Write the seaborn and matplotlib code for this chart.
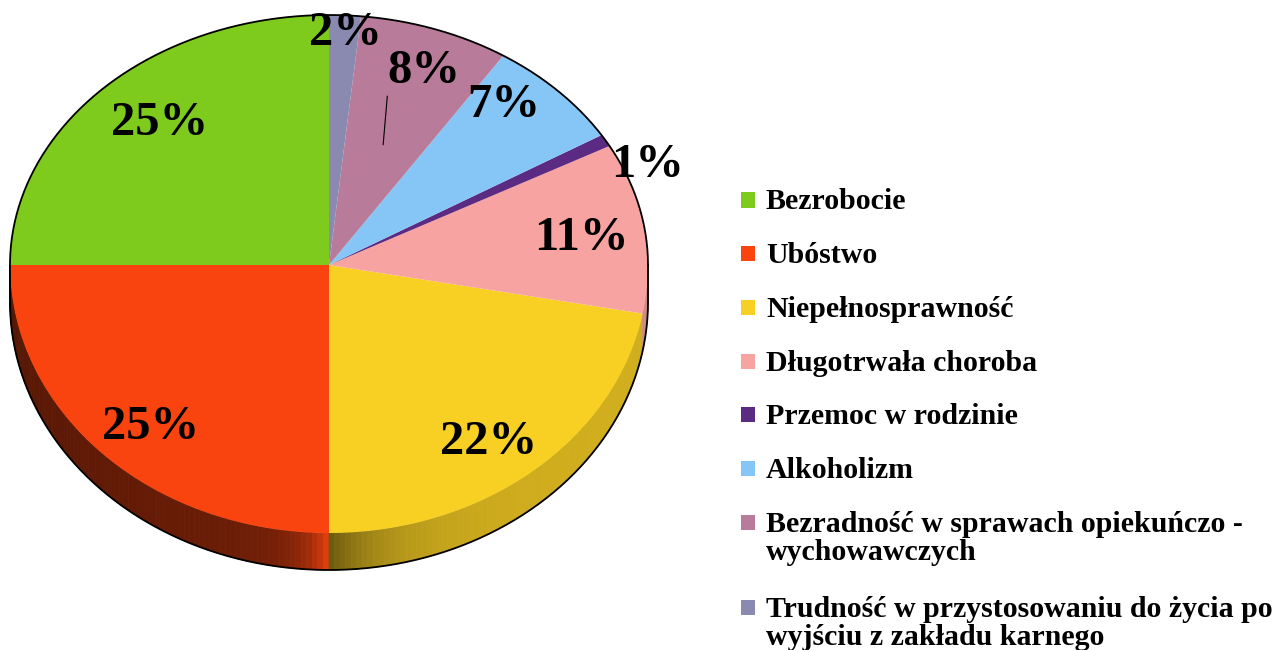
import numpy as np
import matplotlib
matplotlib.use("Agg")
import matplotlib.pyplot as plt
import matplotlib.patches as mpatches
import matplotlib.colors as mcolors
from matplotlib.transforms import offset_copy
import seaborn as sns

# ---- data ----
categories = [
    "Bezrobocie",
    "Ubóstwo",
    "Niepełnosprawność",
    "Długotrwała choroba",
    "Przemoc w rodzinie",
    "Alkoholizm",
    "Bezradność w sprawach opiekuńczo -\nwychowawczych",
    "Trudność w przystosowaniu do życia po\nwyjściu z zakładu karnego",
]
values = [25.0, 25.0, 22.1, 10.8, 0.8, 7.1, 7.6, 1.6]
colors = ["#7ecb1e", "#fa440f", "#f8cf23", "#f6a3a2", "#5b2a83",
          "#85c6f6", "#b87b99", "#8a89b0"]

# label placement (radius factor, angle offset in degrees) - style only
label_pos = [(0.786, -2.6), (0.816, 1.6), (0.82, -2.1), (0.80, -0.4),
             (1.08, -7.5), (0.85, 5.8), (0.84, -1.2), (0.94, -0.3)]

sns.set_theme(style="white")
plt.rcParams["font.family"] = ["Liberation Serif", "DejaVu Serif"]

W, H = 1283, 650
fig = plt.figure(figsize=(W / 100, H / 100), dpi=100)
ax = fig.add_axes([0, 0, 660 / W, 1])

cx, cy, rx = 329, 265, 319
ry_up, ry_dn = 250, 268
k = ry_dn / ry_up
depth = 0.138


def darker(c, f):
    r, g, b = mcolors.to_rgb(c)
    return (min(r * f, 1), min(g * f, 1), min(b * f, 1))


def side_shade(t):
    if t < 270:
        return 0.33 + 0.12 * (t - 180) / 90 + 0.5 * np.exp(-(270 - t) / 4)
    return 0.42 + 0.42 * (1 - np.exp(-(t - 270) / 10))


# top face via seaborn-styled matplotlib pie
wedges, _ = ax.pie(values, colors=colors, startangle=90, counterclock=True,
                   center=(0, 0), radius=1, wedgeprops=dict(linewidth=0, zorder=3))

# side (extrusion) strips following each wedge's angles
for w, col in zip(wedges, colors):
    t1, t2 = w.theta1 % 360, w.theta2 % 360
    if t2 <= t1:
        t2 += 360
    a0, a1 = max(t1, 180), min(t2, 360)
    if a1 <= a0:
        continue
    edges = np.linspace(a0, a1, int(np.ceil(a1 - a0)) + 1)
    for ta, tb in zip(edges[:-1], edges[1:]):
        ra, rb = np.deg2rad(ta), np.deg2rad(tb)
        xs = [np.cos(ra), np.cos(rb), np.cos(rb), np.cos(ra)]
        ys = [np.sin(ra), np.sin(rb), np.sin(rb) - depth, np.sin(ra) - depth]
        ax.fill(xs, ys, color=darker(col, side_shade((ta + tb) / 2)),
                lw=0.6, ec=darker(col, side_shade((ta + tb) / 2)), zorder=1)

# outline
tt = np.linspace(0, np.pi, 200)
tb_ = np.linspace(np.pi, 2 * np.pi, 200)
ox = np.concatenate([np.cos(tt), np.cos(tb_)])
oy = np.concatenate([np.sin(tt), np.sin(tb_) - depth])
ax.plot(np.append(ox, ox[0]), np.append(oy, oy[0]), color="black", lw=1.3, zorder=4)

total = sum(values)
txt_tr = offset_copy(ax.transData, fig=fig, x=0, y=-3, units="dots")
for w, v, (rf, da) in zip(wedges, values, label_pos):
    mid = np.deg2rad((w.theta1 + w.theta2) / 2 + da)
    ax.text(rf * np.cos(mid), rf * np.sin(mid), f"{100 * v / total:.0f}%",
            ha="center", va="center", fontsize=35, fontweight="bold",
            color="black", zorder=10, transform=txt_tr)

# thin leader line in the 8% wedge
w8 = wedges[6]
m8 = (w8.theta1 + w8.theta2) / 2
a1, a2 = np.deg2rad(m8 + 0.0), np.deg2rad(m8 + 4.3)
ax.plot([0.51 * np.cos(a1), 0.70 * np.cos(a2)],
        [0.51 * np.sin(a1), 0.70 * np.sin(a2)], color="black", lw=0.8, zorder=10)

# perspective: lower half of the ellipse slightly taller than upper half
def fwd(y):
    y = np.asarray(y, dtype=float)
    return np.where(y >= 0, y, y * k)


def inv(y):
    y = np.asarray(y, dtype=float)
    return np.where(y >= 0, y, y / k)


ax.set_aspect("auto")
ax.set_yscale("function", functions=(fwd, inv))
ax.set_xlim(-cx / rx, (660 - cx) / rx)
ax.set_ylim(-(H - cy) / ry_dn, cy / ry_up)
ax.axis("off")

# ---- legend (manual, first-line aligned) ----
y = 200.0
line_px = 28
for cat, col in zip(categories, colors):
    n = cat.count("\n") + 1
    fig.patches.append(mpatches.Rectangle(
        (741 / W, 1 - (y + 7.5) / H), 14 / W, 15 / H,
        transform=fig.transFigure, facecolor=col, edgecolor="none"))
    yc = y + line_px * (n - 1) / 2 + 2
    fig.text(766 / W, 1 - yc / H, cat, ha="left", va="center",
             fontsize=21.5, fontweight="bold", color="black", linespacing=1.05)
    y += 53.7 + 32 * (n - 1)

fig.savefig("out.png", dpi=100, facecolor="white")
